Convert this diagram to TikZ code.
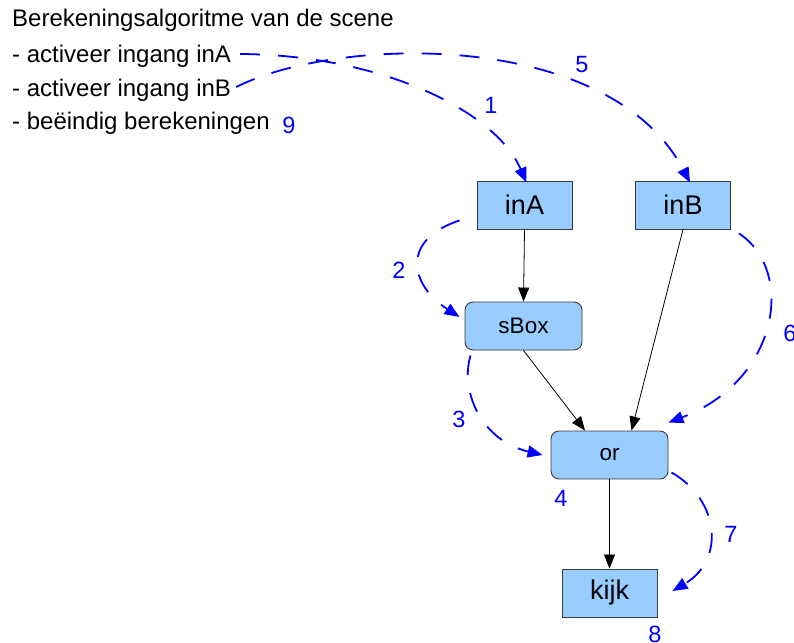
\documentclass[tikz,border=0pt]{standalone}
\usepackage{fontspec}
\setmainfont{Liberation Sans}
\usetikzlibrary{arrows.meta,calc}
\definecolor{boxfill}{HTML}{99CCFF}
\definecolor{boxline}{HTML}{3A3A3A}
\begin{document}
\begin{tikzpicture}[x=1pt,y=-1pt,
  blk/.style={draw=boxline,fill=boxfill,line width=0.9pt,minimum width=95pt,
    minimum height=48pt,inner sep=0pt,font=\fontsize{27}{30}\selectfont},
  rblk/.style={blk,rounded corners=8pt,minimum width=117pt,
    font=\fontsize{22.5}{26}\selectfont},
  flow/.style={draw=black,line width=0.8pt,-{Triangle[length=14pt,width=11pt]}},
  seq/.style={draw=blue,line width=1.8pt,dash pattern=on 20pt off 18pt,
    -{Triangle[length=15pt,width=12pt]}},
  txt/.style={anchor=base west,inner sep=0pt,font=\fontsize{24}{28}\selectfont},
  num/.style={text=blue,inner sep=0pt,font=\fontsize{23.5}{27}\selectfont}]
\useasboundingbox (0,0) rectangle (794,642);

% the algorithm description
\node[txt] (title)   at (12,27)  {Berekeningsalgoritme van de scene};
\node[txt] (lineA)   at (12,63)  {- activeer ingang inA};
\node[txt] (lineB)   at (12,96)  {- activeer ingang inB};
\node[txt] (lineEnd) at (12,129) {- beëindig berekeningen};

% scene graph
\node[blk]  (inA)  at (524.5,205) {inA};
\node[blk]  (inB)  at (683,205)   {inB};
\node[rblk] (sBox) at (523.5,326) {sBox};
\node[rblk] (or)   at (609.5,455) {or};
\node[blk]  (kijk) at (609.5,593) {kijk};

\draw[flow] (inA.south) -- (sBox.north);
\draw[flow] (inB.south) -- (or.48);
\draw[flow] (sBox.south) -- (or.135);
\draw[flow] (or.south) -- (kijk.north);

% evaluation order
\draw[seq] ($(lineA.base east)+(9,-9)$) .. controls (380,55) and (495,110) .. ([xshift=2pt,yshift=-2pt]inA.north);
\draw[seq] ($(lineB.base east)+(5,-9)$) .. controls (340,35) and (610,30) .. ([xshift=7pt,yshift=-2pt]inB.north);
\draw[seq] ($(inA.south west)+(-17,-9)$) .. controls (400,240) and (410,285) .. ($(sBox.west)+(-5,-9)$);
\draw[seq] ($(sBox.south west)+(6,5)$) .. controls (460,390) and (480,440) .. ($(or.west)+(-8,0)$);
\draw[seq] ($(inB.south east)+(8,4)$) .. controls (795,270) and (780,380) .. ($(or.north east)+(0,-8)$);
\draw[seq] ($(or.south east)+(3,-7)$) .. controls (720,500) and (725,560) .. ($(kijk.east)+(15,-2)$);

\node[num] (n1) at (491,105) {1};
\node[num] (n2) at (399,270) {2};
\node[num] (n3) at (459,419) {3};
\node[num] (n4) at (561,498) {4};
\node[num] (n5) at (582,65)  {5};
\node[num] (n6) at (790,333) {6};
\node[num] (n7) at (731,534) {7};
\node[num] (n8) at (655,634) {8};
\node[num] (n9) at (289,125) {9};
\end{tikzpicture}
\end{document}
